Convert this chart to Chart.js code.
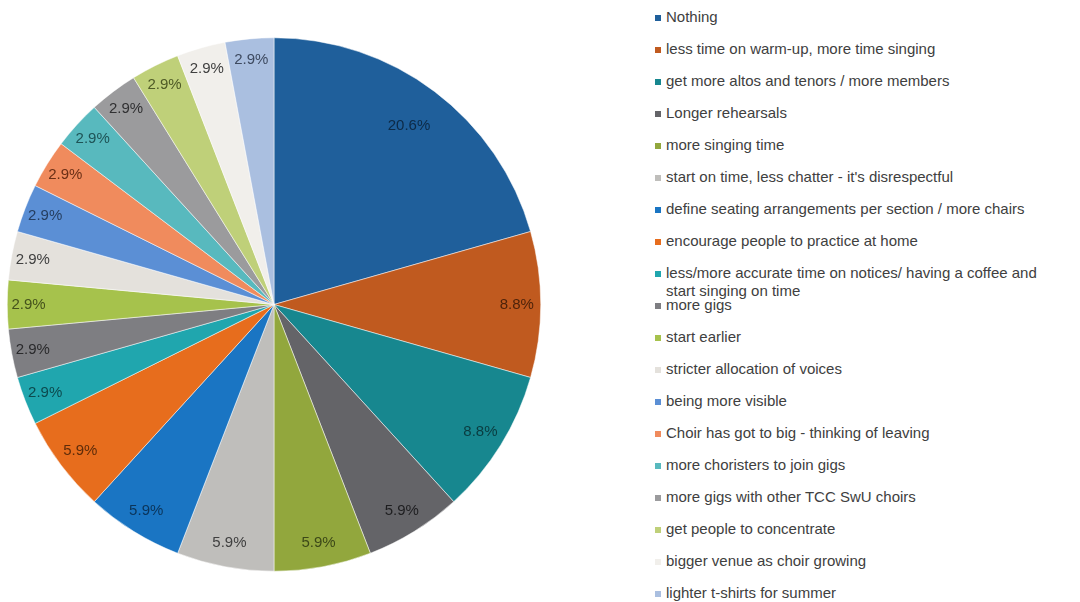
<!DOCTYPE html>
<html>
<head>
<meta charset="utf-8">
<script src="https://cdn.jsdelivr.net/npm/chart.js@4"></script>
<style>
  body { margin: 0; background: #fff; width: 1080px; height: 602px; overflow: hidden; }
  #wrap { position: absolute; left: 0; top: 0; width: 548px; height: 602px; }
  #legend { position: absolute; left: 655px; top: 8px; font-family: "Liberation Sans", Arial, sans-serif;
            font-size: 15px; color: #404040; }
  .item { position: relative; height: 32px; white-space: nowrap; }
  .item .sw { position: absolute; left: 0; top: 7px; width: 6px; height: 6px; }
  .item .tx { position: absolute; left: 11px; top: 0; line-height: 18px; }
</style>
</head>
<body>
<div id="wrap"><canvas id="pie"></canvas></div>
<div id="legend"></div>
<script>
// answers and number of responses (34 in total)
var labels = [
  "Nothing",
  "less time on warm-up, more time singing",
  "get more altos and tenors / more members",
  "Longer rehearsals",
  "more singing time",
  "start on time, less chatter - it's disrespectful",
  "define seating arrangements per section / more chairs",
  "encourage people to practice at home",
  "less/more accurate time on notices/ having a coffee and\nstart singing on time",
  "more  gigs",
  "start earlier",
  "stricter allocation of voices",
  "being more visible",
  "Choir has got to big - thinking of leaving",
  "more choristers to join gigs",
  "more gigs with other TCC SwU choirs",
  "get people to concentrate",
  "bigger venue as choir growing",
  "lighter t-shirts for summer"
];
var counts = [7, 3, 3, 2, 2, 2, 2, 2, 1, 1, 1, 1, 1, 1, 1, 1, 1, 1, 1];

var colors = [
  "#1f5f9b", "#c05a1f", "#17878f", "#646468", "#92a73d", "#bfbebb",
  "#1a75c3", "#e76d1d", "#20a6ae", "#7e7e82", "#a6c24c", "#e4e1dc",
  "#5b8fd5", "#f08b5d", "#58b9be", "#9b9b9d", "#bfd079", "#f1efeb", "#aabfe0"
];
var labelColors = [
  "#0d2a46", "#4e230a", "#0a3c40", "#1e1e20", "#3c4818", "#404040",
  "#0b3459", "#5e2c0a", "#0c4a4e", "#2a2a2c", "#45521c", "#404040",
  "#253e60", "#6a2f16", "#1e5356", "#303032", "#4e5a26", "#404040", "#3e4a60"
];

var total = counts.reduce(function(a, b) { return a + b; }, 0);

// percentage labels inside the slices
var sliceLabels = {
  id: "sliceLabels",
  afterDatasetsDraw: function(chart) {
    var ctx = chart.ctx;
    var meta = chart.getDatasetMeta(0);
    ctx.save();
    ctx.font = "15px 'Liberation Sans', Arial, sans-serif";
    ctx.textAlign = "center";
    ctx.textBaseline = "middle";
    meta.data.forEach(function(arc, i) {
      var mid = (arc.startAngle + arc.endAngle) / 2;
      var f = counts[i] > 5 ? 0.84 : (counts[i] > 1 ? 0.91 : 0.92);
      var r = arc.outerRadius * f;
      var x = arc.x + Math.cos(mid) * r;
      var y = arc.y + Math.sin(mid) * r;
      ctx.fillStyle = labelColors[i];
      ctx.fillText((counts[i] / total * 100).toFixed(1) + "%", x, y);
    });
    ctx.restore();
  }
};

new Chart(document.getElementById("pie"), {
  type: "pie",
  data: {
    labels: labels,
    datasets: [{
      data: counts,
      backgroundColor: colors,
      borderColor: "#ffffff",
      borderWidth: 0.5
    }]
  },
  options: {
    responsive: true,
    maintainAspectRatio: false,
    animation: false,
    layout: { padding: { left: 7, right: 7, top: 37, bottom: 30 } },
    plugins: {
      legend: { display: false },
      tooltip: { enabled: false }
    }
  },
  plugins: [sliceLabels]
});

// legend on the right
var legend = document.getElementById("legend");
labels.forEach(function(lab, i) {
  var item = document.createElement("div");
  item.className = "item";
  var sw = document.createElement("span");
  sw.className = "sw";
  sw.style.background = colors[i];
  var tx = document.createElement("span");
  tx.className = "tx";
  tx.innerHTML = lab.replace("\n", "<br>");
  item.appendChild(sw);
  item.appendChild(tx);
  legend.appendChild(item);
});
</script>
</body>
</html>
